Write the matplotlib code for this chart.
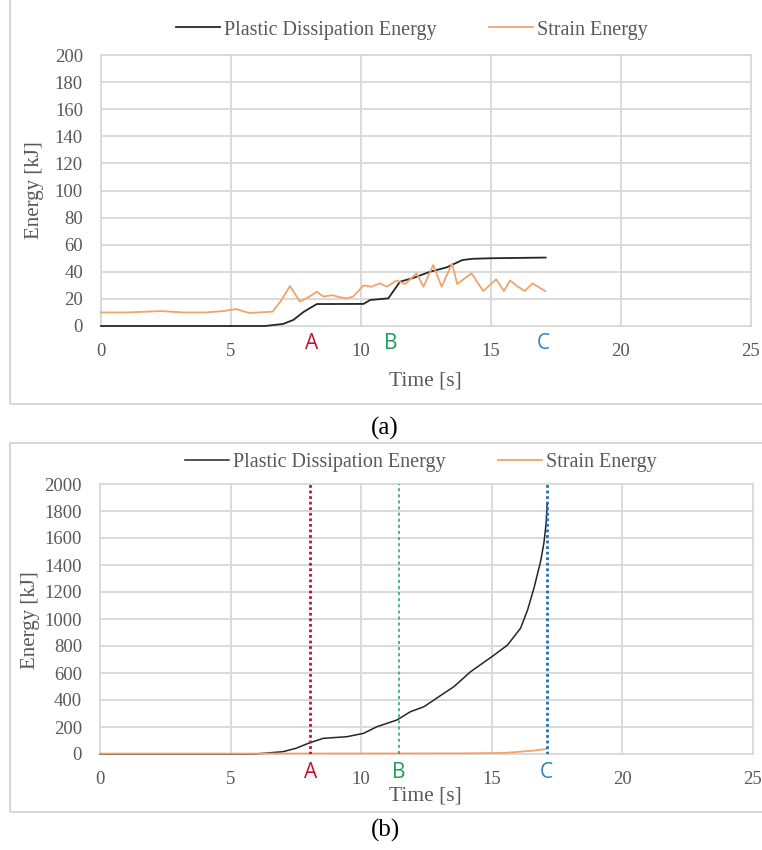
import numpy as np
import matplotlib
matplotlib.use('Agg')
import matplotlib.pyplot as plt
from matplotlib.patches import Rectangle

# ---- data ----
# (a) plastic dissipation energy [kJ]
t_pd_a = [0, 6.3, 7.0, 7.4, 7.8, 8.3, 10.1, 10.35, 11.05, 11.5, 12.0, 12.65, 13.3, 13.9, 14.3, 15.0, 17.1]
pd_a = [0, 0, 1.5, 4.5, 10.5, 16.2, 16.3, 19.2, 20.4, 32.7, 35.4, 40.0, 43.3, 48.7, 49.6, 50.0, 50.5]

# (a) strain energy [kJ]
t_se_a = [0, 1.0, 2.3, 3.2, 4.0, 4.7, 5.2, 5.7, 6.6, 6.9, 7.27, 7.65, 8.0, 8.3, 8.55, 8.9, 9.2, 9.45,
          9.7, 10.1, 10.4, 10.73, 11.0, 11.37, 11.7, 12.14, 12.4, 12.78, 13.1, 13.5, 13.7, 14.25, 14.7,
          15.2, 15.5, 15.73, 16.0, 16.3, 16.6, 17.08]
se_a = [10, 10, 11, 10, 10, 11, 12.5, 9.6, 10.6, 18, 29.5, 18, 21.5, 25.3, 21.7, 22.7, 21.2, 20.4,
        21.7, 30, 29, 31.5, 29, 33.6, 31, 38.9, 29, 45, 29, 46, 31, 38.9, 25.8,
        34.4, 25.8, 33.6, 29.5, 25.8, 31.5, 25.8]

# (b) plastic dissipation energy [kJ]
t_pd_b = [0, 5.5, 6.0, 7.0, 7.5, 8.04, 8.55, 9.45, 10.09, 10.6, 11.37, 11.88, 12.4, 13.17, 13.55,
          14.19, 15.09, 15.6, 16.1, 16.37, 16.63, 16.88, 17.0, 17.08, 17.12]
pd_b = [0, 0, 1, 17, 42, 84, 116, 128, 153, 202, 252, 313, 350, 450, 499,
        610, 733, 807, 931, 1067, 1240, 1437, 1570, 1709, 1860]

# (b) strain energy [kJ]
t_se_b = [0, 5.0, 10.0, 14.0, 15.5, 16.6, 17.1]
se_b = [3, 3, 4, 5, 8, 25, 38]

events = ['A', 'B', 'C']
event_t = [8.05, 11.45, 17.1]
label_t_a = [8.1, 11.15, 17.0]
event_colors = ['#c0142d', '#1f9e55', '#2b86c2']

W, H = 762, 850
fig = plt.figure(figsize=(W / 100, H / 100), dpi=100)
plt.rcParams['font.family'] = ['Liberation Serif', 'DejaVu Serif']

def fx(x):
    return x / W

def fy(y):
    return 1 - y / H

GRAY = '#595959'
GRID = '#d9d9d9'

# panel frames
fig.add_artist(Rectangle((fx(10), fy(404)), fx(760), fy(-5) - fy(404), transform=fig.transFigure,
                         fill=False, ec='#d0d0d0', lw=1.2))
fig.add_artist(Rectangle((fx(10), fy(812)), fx(760), fy(443) - fy(812), transform=fig.transFigure,
                         fill=False, ec='#d0d0d0', lw=1.2))

ax_a = fig.add_axes([fx(101), fy(326), fx(751) - fx(101), fy(55) - fy(326)])
ax_b = fig.add_axes([fx(100), fy(754), fx(753) - fx(100), fy(484) - fy(754)])

for ax, ymax, ystep in [(ax_a, 200, 20), (ax_b, 2000, 200)]:
    ax.set_xlim(0, 25)
    ax.set_ylim(0, ymax)
    ax.set_xticks(range(0, 26, 5))
    ax.set_yticks(range(0, ymax + 1, ystep))
    ax.grid(True, color=GRID, lw=1.4)
    ax.set_axisbelow(True)
    for s in ax.spines.values():
        s.set_visible(False)
    ax.tick_params(length=0, labelsize=13.5, labelcolor=GRAY)
    ax.tick_params(axis='y', pad=13)
    ax.tick_params(axis='x', pad=12)
    for gl in ax.get_xgridlines() + ax.get_ygridlines():
        gl.set_clip_on(False)

ax_a.plot(t_pd_a, pd_a, color='#262626', lw=1.3, label='Plastic Dissipation Energy', clip_on=False)
ax_a.plot(t_se_a, se_a, color='#f2a36a', lw=1.3, label='Strain Energy', clip_on=False)
ax_b.plot(t_pd_b, pd_b, color='#262626', lw=1.1, label='Plastic Dissipation Energy', clip_on=False)
ax_b.plot(t_se_b, se_b, color='#f2a36a', lw=1.3, label='Strain Energy', clip_on=False)

# event lines in (b)
line_colors = ['#c0142d', '#1e9c7a', '#1f6fb5']
styles = [dict(lw=2.0, ls=(0, (1, 1))), dict(lw=1.1, ls=(0, (2, 2))), dict(lw=2.0, ls=(0, (1, 1)))]
for tt, c, st in zip(event_t, line_colors, styles):
    ax_b.axvline(tt, color=c, **st, zorder=3)

# event letters
for lab, tt, c in zip(events, label_t_a, event_colors):
    ax_a.text(tt, -13, lab, color=c, fontsize=15, family='Open Sans', ha='center', va='center')
for lab, tt, c in zip(events, event_t, event_colors):
    ax_b.text(tt, -140, lab, color=c, fontsize=15, family='Open Sans', ha='center', va='center')

for ax, lx, ly in [(ax_a, 412, 30), (ax_b, 421, 462)]:
    ax.legend(loc='center', bbox_to_anchor=(fx(lx), fy(ly)), bbox_transform=fig.transFigure,
              ncol=2, frameon=False, fontsize=14.5, handlelength=2.2, handletextpad=0.2,
              columnspacing=2.6, labelcolor=GRAY)

fig.text(fx(35), fy(190), 'Energy [kJ]', rotation=90, ha='center', va='center', fontsize=15, color=GRAY)
fig.text(fx(30), fy(620), 'Energy [kJ]', rotation=90, ha='center', va='center', fontsize=15, color=GRAY)
fig.text(fx(425), fy(381), 'Time [s]', ha='center', va='center', fontsize=15.5, color=GRAY)
fig.text(fx(425), fy(796), 'Time [s]', ha='center', va='center', fontsize=15.5, color=GRAY)
fig.text(fx(385), fy(428), '(a)', ha='center', va='center', fontsize=18, color='black')
fig.text(fx(385), fy(830), '(b)', ha='center', va='center', fontsize=18, color='black')

fig.savefig('out.png', dpi=100)
